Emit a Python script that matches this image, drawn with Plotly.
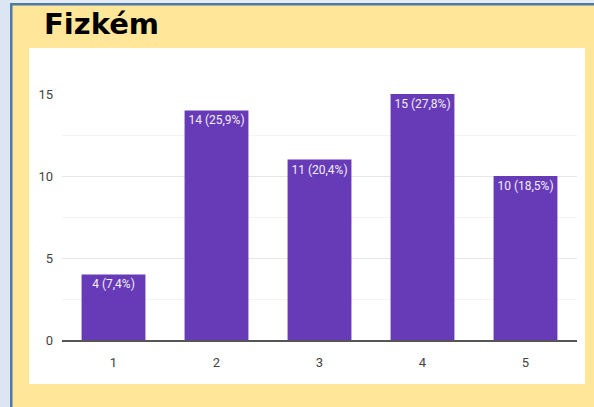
import plotly.graph_objects as go

categories = ["1", "2", "3", "4", "5"]
counts = [4, 14, 11, 15, 10]
percent_labels = ["4 (7,4%)", "14 (25,9%)", "11 (20,4%)", "15 (27,8%)", "10 (18,5%)"]
y_ticks = [0, 5, 10, 15]
title_text = "Fizkém"

W, H = 594, 407
L, R, T, B = 62, 577, 94, 340

def px(x):
    return (x - L) / (R - L)

def py(y):
    return (B - y) / (B - T)

fig = go.Figure()
fig.add_trace(go.Bar(
    x=categories, y=counts, text=percent_labels,
    textposition="inside", insidetextanchor="end",
    textfont=dict(family="Roboto", size=12, color="#f2f0f8"),
    marker=dict(color="#673AB7", line=dict(width=0)),
    width=0.62, hoverinfo="skip", cliponaxis=False,
))

shapes = [
    dict(type="rect", xref="paper", yref="paper", x0=px(0), x1=px(10), y0=py(0), y1=py(H),
         fillcolor="#DCE5F2", line=dict(width=0), layer="below"),
    dict(type="rect", xref="paper", yref="paper", x0=px(10), x1=px(W), y0=py(0), y1=py(4),
         fillcolor="#E4ECF6", line=dict(width=0), layer="below"),
    dict(type="rect", xref="paper", yref="paper", x0=px(12), x1=px(W), y0=py(5), y1=py(H),
         fillcolor="#FFE699", line=dict(width=0), layer="below"),
    dict(type="rect", xref="paper", yref="paper", x0=px(10), x1=px(12.5), y0=py(3), y1=py(H),
         fillcolor="#4F7AA8", line=dict(width=0), layer="below"),
    dict(type="rect", xref="paper", yref="paper", x0=px(10), x1=px(W), y0=py(3), y1=py(5.5),
         fillcolor="#4F7AA8", line=dict(width=0), layer="below"),
    dict(type="rect", xref="paper", yref="paper", x0=px(29), x1=px(585), y0=py(48), y1=py(384),
         fillcolor="#FFFFFF", line=dict(width=0), layer="below"),
]

fig.update_layout(
    width=W, height=H,
    margin=dict(l=L, r=W - R, t=T, b=H - B, pad=0),
    paper_bgcolor="#FFE699", plot_bgcolor="rgba(0,0,0,0)",
    showlegend=False, bargap=0.38,
    shapes=shapes,
    annotations=[dict(text=title_text, xref="paper", yref="paper", x=px(42), y=py(24),
                      xanchor="left", yanchor="middle", showarrow=False,
                      font=dict(family="DejaVu Sans", size=29, color="#000000", weight="bold"))],
    xaxis=dict(range=[-0.5, 4.5], showgrid=False, showline=True, linecolor="#555555", linewidth=2,
               ticks="", ticklabelstandoff=9, zeroline=False,
               tickfont=dict(family="Roboto", size=13, color="#444444")),
    yaxis=dict(range=[0, 15], tickvals=y_ticks, showgrid=True, gridcolor="#E6E6E6", gridwidth=1,
               zeroline=False, showline=False, ticks="", ticklabelstandoff=8,
               tickfont=dict(family="Roboto", size=13, color="#444444"),
               minor=dict(dtick=2.5, tick0=0, showgrid=True, gridcolor="#F3F3F3", gridwidth=1)),
)

fig.write_html(
    "out.html",
    config={"displayModeBar": False, "responsive": False},
    post_script="document.body.style.margin='0';document.body.style.overflow='hidden';",
)
